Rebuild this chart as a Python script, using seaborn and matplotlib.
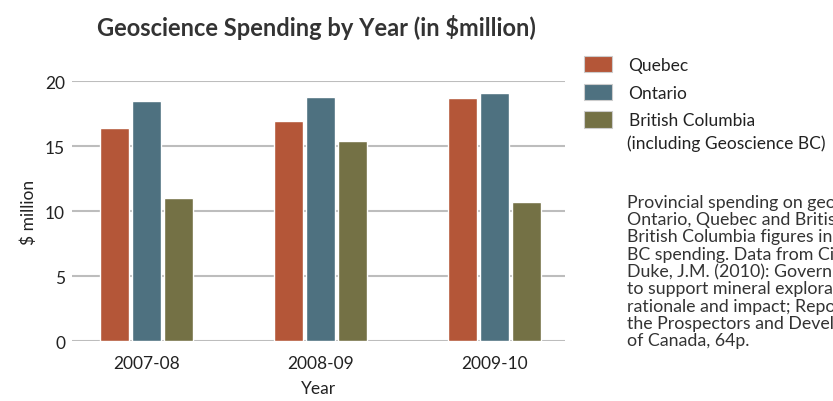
import matplotlib
matplotlib.use("Agg")
import matplotlib.pyplot as plt
import seaborn as sns
import pandas as pd
from matplotlib.patches import Patch

years = ["2007-08", "2008-09", "2009-10"]
provinces = ["Quebec", "Ontario", "British Columbia"]
quebec = [16.4, 16.95, 18.7]
ontario = [18.5, 18.8, 19.1]
british_columbia = [11.0, 15.4, 10.7]
colors = ["#b45638", "#4e7180", "#747145"]
yticks = [0, 5, 10, 15, 20]

df = pd.DataFrame({
    "Year": years * 3,
    "Province": [p for p in provinces for _ in years],
    "Value": quebec + ontario + british_columbia,
})

sns.set_theme(style="white")
FONT = "Lato"
plt.rcParams["font.family"] = [FONT, "DejaVu Sans"]
TXT = "#222222"

fig = plt.figure(figsize=(8.33, 4.02), dpi=100)
ax = fig.add_axes([72 / 833, (402 - 342.3) / 402, 493 / 833, 260 / 402])

sns.barplot(data=df, x="Year", y="Value", hue="Province", hue_order=provinces,
            order=years, palette=colors, width=0.552, gap=0.094,
            saturation=1, errorbar=None, ax=ax, legend=False)

ax.set_ylim(0, 20)
ax.set_xlim(-0.428, 2.405)
ax.set_yticks(yticks)
ax.grid(axis="y", color="#bdbdbd", linewidth=1.5)
ax.set_axisbelow(True)
for s in ax.spines.values():
    s.set_visible(False)
ax.tick_params(axis="both", length=0, labelsize=12.5, colors=TXT)
ax.tick_params(axis="y", pad=5)
ax.tick_params(axis="x", pad=10)
ax.set_xlabel("Year", fontsize=12.5, color=TXT, labelpad=6.5)
ax.set_ylabel("$ million", fontsize=12.5, color=TXT, labelpad=5.5)

fig.text(316.5 / 833, 1 - 36 / 402, "Geoscience Spending by Year (in $million)",
         ha="center", va="baseline", fontsize=17, fontweight="bold", color="#333333")

handles = [Patch(facecolor=c, edgecolor="#cccccc", linewidth=0.8) for c in colors]
leg = fig.legend(handles, ["Quebec", "Ontario", "British Columbia"],
                 loc="upper left", bbox_to_anchor=(584 / 833, 1 - 57 / 402),
                 frameon=False, fontsize=12.5, handlelength=1.62, handleheight=1.08,
                 handletextpad=0.95, labelspacing=0.6, borderpad=0, borderaxespad=0)
for t in leg.get_texts():
    t.set_color(TXT)
fig.text(627 / 833, 1 - 149 / 402, "(including Geoscience BC)", ha="left", va="baseline",
         fontsize=12.5, color=TXT)

note = ("Provincial spending on geoscience in\n"
        "Ontario, Quebec and British Columbia.\n"
        "British Columbia figures include Geoscience\n"
        "BC spending. Data from Cited source:\n"
        "Duke, J.M. (2010): Government geoscience\n"
        "to support mineral exploration: public policy\n"
        "rationale and impact; Report prepared for\n"
        "the Prospectors and Developers Association\n"
        "of Canada, 64p.")
fig.text(627 / 833, 1 - 195 / 402, note, ha="left", va="top", fontsize=12.8,
         color="#333333", linespacing=1.09)

fig.savefig("out.png", dpi=100)
